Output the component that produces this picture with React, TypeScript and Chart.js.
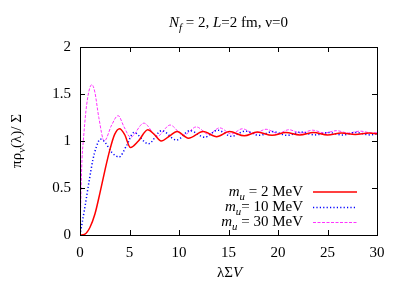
import React, { useEffect, useRef } from "react";
import { Chart, registerables } from "chart.js";

Chart.register(...registerables);

// ---------- data ----------
const xTicks = [0, 5, 10, 15, 20, 25, 30];
const yTicks = [0, 0.5, 1, 1.5, 2];

const redX = [0, 0.5, 1, 1.5, 2, 2.5, 3, 3.5, 4.0, 4.5, 5.1, 5.9, 6.85, 7.5, 8.2, 9.0, 9.8, 10.95, 12.45, 13.8, 15.1, 16.6, 17.9, 19.4, 20.8, 22.2, 23.6, 25.0, 26.4, 27.8, 29.2, 30];
const redY = [0, 0.01, 0.08, 0.22, 0.44, 0.68, 0.9, 1.07, 1.13, 1.07, 0.93, 1.0, 1.12, 1.07, 1.0, 1.05, 1.10, 1.03, 1.10, 1.045, 1.10, 1.055, 1.095, 1.06, 1.09, 1.065, 1.09, 1.065, 1.085, 1.07, 1.085, 1.078];

const blueX = [0, 0.5, 0.9, 1.3, 1.6, 2.05, 2.5, 3.2, 3.95, 4.7, 5.45, 6.9, 8.25, 9.75, 11.1, 12.6, 13.9, 15.3, 16.7, 18.1, 19.5, 20.9, 22.3, 23.7, 25.1, 26.5, 27.9, 29.3, 30];
const blueY = [0, 0.3, 0.56, 0.8, 0.92, 1.02, 0.99, 0.88, 0.83, 0.95, 1.09, 0.97, 1.11, 1.01, 1.11, 1.04, 1.115, 1.05, 1.105, 1.06, 1.10, 1.06, 1.095, 1.065, 1.09, 1.065, 1.09, 1.065, 1.075];

const magX = [0, 0.1, 0.2, 0.35, 0.6, 0.9, 1.2, 1.5, 1.9, 2.45, 3.2, 3.85, 4.45, 5.1, 6.45, 7.8, 9.1, 10.45, 11.75, 13.0, 14.1, 15.3, 16.4, 17.6, 18.8, 20.0, 21.1, 22.3, 23.5, 24.7, 25.9, 27.1, 28.3, 29.5, 30];
const magY = [0, 0.45, 0.8, 1.02, 1.32, 1.53, 1.6, 1.52, 1.25, 1.0, 1.17, 1.27, 1.15, 1.04, 1.19, 1.05, 1.17, 1.06, 1.15, 1.07, 1.14, 1.075, 1.13, 1.08, 1.125, 1.08, 1.12, 1.085, 1.115, 1.085, 1.11, 1.085, 1.105, 1.085, 1.09];

const legendMasses = ["2", "10", "30"];

// ---------- text helpers ----------
type Run = { t: string; it?: boolean; sub?: boolean };
const FAMILY = "'Liberation Serif', serif";
function runFont(r: Run, size: number) {
  const s = r.sub ? size * 0.72 : size;
  return `${r.it ? "italic " : ""}${s}px ${FAMILY}`;
}
function measureRuns(ctx: CanvasRenderingContext2D, runs: Run[], size: number) {
  let w = 0;
  for (const r of runs) {
    ctx.font = runFont(r, size);
    w += ctx.measureText(r.t).width;
  }
  return w;
}
function drawRuns(ctx: CanvasRenderingContext2D, runs: Run[], x: number, y: number, size: number, align: "left" | "center" | "right") {
  const w = measureRuns(ctx, runs, size);
  let cx = align === "center" ? x - w / 2 : align === "right" ? x - w : x;
  ctx.textAlign = "left";
  ctx.textBaseline = "alphabetic";
  ctx.fillStyle = "#000";
  for (const r of runs) {
    ctx.font = runFont(r, size);
    ctx.fillText(r.t, cx, y + (r.sub ? size * 0.27 : 0));
    cx += ctx.measureText(r.t).width;
  }
}

const styles = [
  { color: "#ff0000", width: 1.5, dash: [] as number[] },
  { color: "#0000ff", width: 1.5, dash: [1.2, 2.2] },
  { color: "#ff33ff", width: 1, dash: [3, 1.5] },
];

const decorPlugin = {
  id: "decor",
  afterDatasetsDraw(chart: any) {
    const ctx: CanvasRenderingContext2D = chart.ctx;
    const { left, right, top, bottom } = chart.chartArea;
    const xs = chart.scales.x;
    const ys = chart.scales.y;
    ctx.save();
    ctx.strokeStyle = "#000";
    ctx.lineWidth = 1;
    ctx.setLineDash([]);
    ctx.strokeRect(Math.round(left) + 0.5, Math.round(top) + 0.5, Math.round(right - left), Math.round(bottom - top));
    const tl = 5;
    ctx.beginPath();
    for (const v of xTicks) {
      const px = Math.round(xs.getPixelForValue(v)) + 0.5;
      ctx.moveTo(px, bottom);
      ctx.lineTo(px, bottom - tl);
      ctx.moveTo(px, top);
      ctx.lineTo(px, top + tl);
    }
    for (const v of yTicks) {
      const py = Math.round(ys.getPixelForValue(v)) + 0.5;
      ctx.moveTo(left, py);
      ctx.lineTo(left + tl, py);
      ctx.moveTo(right, py);
      ctx.lineTo(right - tl, py);
    }
    ctx.stroke();

    const legendRight = 303;
    const lineX0 = 313;
    const lineX1 = 357;
    const rowY = [192, 207.5, 222.5];
    legendMasses.forEach((m, i) => {
      const runs: Run[] = [
        { t: "m", it: true },
        { t: "u", it: true, sub: true },
        { t: (i === 1 ? "= " : " = ") + m + " MeV" },
      ];
      drawRuns(ctx, runs, legendRight, rowY[i] + 3.5, 15, "right");
      const s = styles[i];
      ctx.strokeStyle = s.color;
      ctx.lineWidth = s.width;
      ctx.setLineDash(s.dash);
      ctx.beginPath();
      ctx.moveTo(lineX0, rowY[i]);
      ctx.lineTo(lineX1, rowY[i]);
      ctx.stroke();
    });
    ctx.setLineDash([]);

    drawRuns(
      ctx,
      [{ t: "N", it: true }, { t: "f", it: true, sub: true }, { t: " = 2, " }, { t: "L", it: true }, { t: "=2 fm, ν=0" }],
      (left + right) / 2,
      27,
      15,
      "center"
    );
    drawRuns(ctx, [{ t: "λΣ" }, { t: "V", it: true }], (left + right) / 2 + 1, 277, 15, "center");
    ctx.save();
    ctx.translate(21, (top + bottom) / 2);
    ctx.rotate(-Math.PI / 2);
    drawRuns(ctx, [{ t: "πρ" }, { t: "ν", sub: true }, { t: "(λ)/ Σ" }], 0, 0, 15, "center");
    ctx.restore();
    ctx.restore();
  },
};

function dsStyle(i: number) {
  const s = styles[i];
  return {
    borderColor: s.color,
    borderWidth: s.width,
    borderDash: s.dash,
    fill: false,
    pointRadius: 0,
    cubicInterpolationMode: "monotone",
    showLine: true,
  };
}

export default function App() {
  const ref = useRef<HTMLCanvasElement | null>(null);
  useEffect(() => {
    if (!ref.current) return;
    const mk = (xs: number[], ys: number[]) => xs.map((x, i) => ({ x, y: ys[i] }));
    const chart = new Chart(ref.current, {
      type: "line",
      data: {
        datasets: [
          { data: mk(redX, redY), ...dsStyle(0) },
          { data: mk(blueX, blueY), ...dsStyle(1) },
          { data: mk(magX, magY), ...dsStyle(2) },
        ] as any,
      },
      options: {
        animation: false,
        responsive: false,
        devicePixelRatio: 1,
        layout: { padding: { left: 0, right: 26, top: 47, bottom: 0 } },
        plugins: { legend: { display: false }, tooltip: { enabled: false }, title: { display: false } },
        elements: { point: { radius: 0 } },
        scales: {
          x: {
            type: "linear",
            min: 0,
            max: 30,
            grid: { display: false, drawTicks: false },
            border: { display: false },
            afterFit: (s: any) => {
              s.height = 47;
            },
            afterBuildTicks: (s: any) => {
              s.ticks = xTicks.map((v) => ({ value: v }));
            },
            ticks: {
              color: "#000",
              padding: 9,
              maxRotation: 0,
              autoSkip: false,
              font: { family: FAMILY, size: 15 },
              callback: (v: any) => String(v),
            },
          },
          y: {
            type: "linear",
            min: 0,
            max: 2,
            grid: { display: false, drawTicks: false },
            border: { display: false },
            afterFit: (s: any) => {
              s.width = 80;
            },
            afterBuildTicks: (s: any) => {
              s.ticks = yTicks.map((v) => ({ value: v }));
            },
            ticks: {
              color: "#000",
              padding: 9,
              autoSkip: false,
              font: { family: FAMILY, size: 15 },
              callback: (v: any) => String(v),
            },
          },
        },
      } as any,
      plugins: [decorPlugin],
    });
    return () => chart.destroy();
  }, []);
  return (
    <div style={{ position: "absolute", left: 0, top: 0, width: 403, height: 282, background: "#fff" }}>
      <canvas ref={ref} width={403} height={282} style={{ width: 403, height: 282 }} />
    </div>
  );
}
